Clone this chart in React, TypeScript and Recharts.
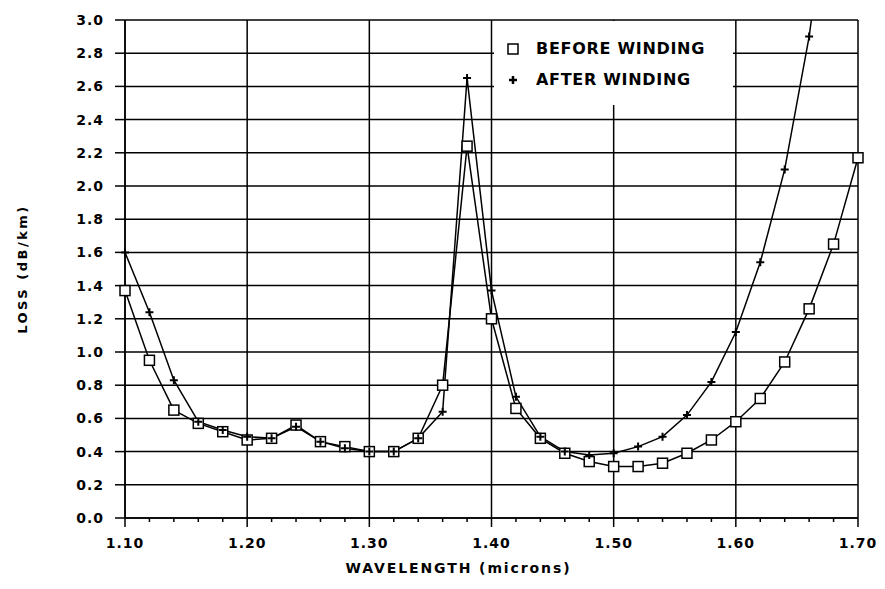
import React from "react";
import {
  LineChart,
  Line,
  XAxis,
  YAxis,
  CartesianGrid,
  Legend,
} from "recharts";

const wavelengths = [
  1.1, 1.12, 1.14, 1.16, 1.18, 1.2, 1.22, 1.24, 1.26, 1.28, 1.3, 1.32, 1.34,
  1.36, 1.38, 1.4, 1.42, 1.44, 1.46, 1.48, 1.5, 1.52, 1.54, 1.56, 1.58, 1.6,
  1.62, 1.64, 1.66, 1.68, 1.7,
];

const beforeWinding = [
  1.37, 0.95, 0.65, 0.57, 0.52, 0.47, 0.48, 0.56, 0.46, 0.43, 0.4, 0.4, 0.48,
  0.8, 2.24, 1.2, 0.66, 0.48, 0.39, 0.34, 0.31, 0.31, 0.33, 0.39, 0.47, 0.58,
  0.72, 0.94, 1.26, 1.65, 2.17,
];

const afterWinding = [
  1.6, 1.24, 0.83, 0.58, 0.53, 0.49, 0.48, 0.55, 0.46, 0.42, 0.4, 0.4, 0.48,
  0.64, 2.65, 1.37, 0.73, 0.49, 0.4, 0.38, 0.39, 0.43, 0.49, 0.62, 0.82, 1.12,
  1.54, 2.1, 2.9, 4.0, null,
];

const majorTicks = [1.1, 1.2, 1.3, 1.4, 1.5, 1.6, 1.7];
const lossTicks = [
  0, 0.2, 0.4, 0.6, 0.8, 1.0, 1.2, 1.4, 1.6, 1.8, 2.0, 2.2, 2.4, 2.6, 2.8, 3.0,
];

const data = wavelengths.map((w, i) => ({
  wavelength: w,
  before: beforeWinding[i],
  after: afterWinding[i],
}));

const FONT = "'DejaVu Sans', Verdana, sans-serif";

const SquareDot = (props: any) => {
  const { cx, cy } = props;
  if (cx == null || cy == null) return null;
  return (
    <rect
      x={cx - 5}
      y={cy - 5}
      width={10}
      height={10}
      fill="#fff"
      stroke="#000"
      strokeWidth={1.5}
    />
  );
};

const PlusDot = (props: any) => {
  const { cx, cy } = props;
  if (cx == null || cy == null) return null;
  return (
    <path
      d={`M${cx - 4},${cy}H${cx + 4}M${cx},${cy - 4}V${cy + 4}`}
      stroke="#000"
      strokeWidth={2}
      fill="none"
    />
  );
};

const XTick = (props: any) => {
  const { x, y, payload } = props;
  const major = Math.round(payload.value * 100) % 10 === 0;
  return (
    <g>
      <line
        x1={x}
        y1={y}
        x2={x}
        y2={y + (major ? 9 : 4)}
        stroke="#000"
        strokeWidth={1.5}
      />
      {major && (
        <text
          x={x}
          y={y + 30}
          textAnchor="middle"
          fontSize={14}
          fontWeight="bold"
          fontFamily={FONT}
          letterSpacing={1}
          fill="#000"
        >
          {payload.value.toFixed(2)}
        </text>
      )}
    </g>
  );
};

const LegendBox = () => (
  <div
    style={{
      fontFamily: FONT,
      fontWeight: "bold",
      fontSize: 16,
      background: "#fff",
      boxSizing: "border-box",
      height: 84,
      padding: "12px 0 0 12px",
    }}
  >
    {[
      { label: "BEFORE WINDING", icon: "square" },
      { label: "AFTER WINDING", icon: "plus" },
    ].map((item) => (
      <div
        key={item.label}
        style={{ display: "flex", alignItems: "center", height: 31 }}
      >
        <svg width={14} height={14} style={{ marginRight: 16 }}>
          {item.icon === "square" ? (
            <rect x={2} y={2} width={10} height={10} fill="#fff" stroke="#000" strokeWidth={1.5} />
          ) : (
            <path d="M3,7H11M7,3V11" stroke="#000" strokeWidth={2.5} />
          )}
        </svg>
        <span style={{ letterSpacing: 0.7, color: "#000" }}>{item.label}</span>
      </div>
    ))}
  </div>
);

export default function App() {
  return (
    <div style={{ position: "absolute", left: 0, top: 0, background: "#fff" }}>
      <LineChart
        width={885}
        height={589}
        data={data}
        margin={{ top: 20, right: 27, bottom: 11, left: 5 }}
      >
        <CartesianGrid
          stroke="#000"
          strokeWidth={1.5}
          verticalValues={majorTicks}
          horizontalValues={lossTicks}
        />
        <XAxis
          dataKey="wavelength"
          type="number"
          domain={[1.1, 1.7]}
          ticks={wavelengths}
          interval={0}
          height={60}
          tickSize={0}
          tickMargin={0}
          tickLine={false}
          tick={<XTick />}
          axisLine={{ stroke: "#000", strokeWidth: 1.5 }}
          label={{
            value: "WAVELENGTH (microns)",
            position: "insideBottom",
            offset: 5,
            dx: -33,
            style: {
              fontFamily: FONT,
              fontWeight: "bold",
              fontSize: 14,
              letterSpacing: 1.9,
              fill: "#000",
            },
          }}
        />
        <YAxis
          type="number"
          domain={[0, 3]}
          ticks={lossTicks}
          interval={0}
          allowDataOverflow
          width={120}
          tickSize={10}
          tickMargin={11}
          tickFormatter={(v: number) => v.toFixed(1)}
          tick={{
            fontFamily: FONT,
            fontWeight: "bold",
            fontSize: 14,
            letterSpacing: 1,
            fill: "#000",
          }}
          tickLine={{ stroke: "#000", strokeWidth: 1.5 }}
          axisLine={{ stroke: "#000", strokeWidth: 1.5 }}
          label={{
            value: "LOSS (dB/km)",
            angle: -90,
            position: "insideLeft",
            offset: 17,
            style: {
              textAnchor: "middle",
              fontFamily: FONT,
              fontWeight: "bold",
              fontSize: 13,
              letterSpacing: 2.5,
              fill: "#000",
            },
          }}
        />
        <Legend
          layout="vertical"
          align="center"
          verticalAlign="middle"
          content={<LegendBox />}
          wrapperStyle={{ position: "absolute", left: 494, top: 21, width: 239 }}
        />
        <Line
          type="linear"
          dataKey="before"
          name="BEFORE WINDING"
          stroke="#000"
          strokeWidth={1.5}
          dot={<SquareDot />}
          activeDot={false}
          isAnimationActive={false}
        />
        <Line
          type="linear"
          dataKey="after"
          name="AFTER WINDING"
          stroke="#000"
          strokeWidth={1.5}
          dot={<PlusDot />}
          activeDot={false}
          isAnimationActive={false}
        />
      </LineChart>
    </div>
  );
}
